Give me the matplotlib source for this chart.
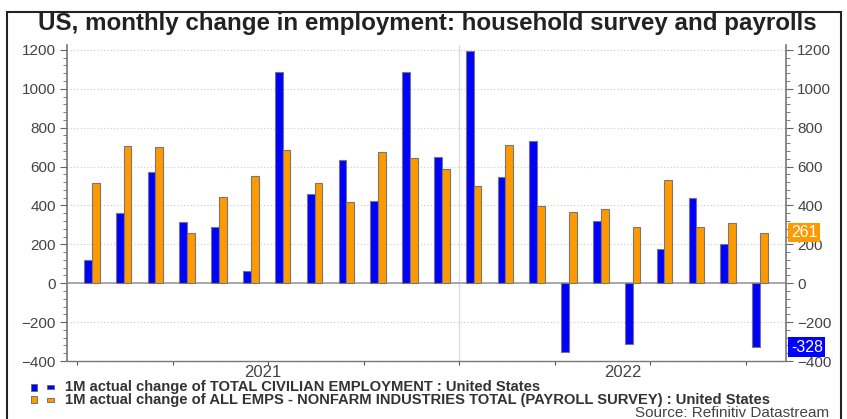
import matplotlib.pyplot as plt
from matplotlib.patches import Rectangle
from matplotlib.ticker import MultipleLocator, FixedLocator, NullFormatter

plt.rcParams['font.family'] = ['Liberation Sans', 'DejaVu Sans']

# monthly changes, Jan 2021 .. Oct 2022 (thousands)
months = ['2021-01', '2021-02', '2021-03', '2021-04', '2021-05', '2021-06',
          '2021-07', '2021-08', '2021-09', '2021-10', '2021-11', '2021-12',
          '2022-01', '2022-02', '2022-03', '2022-04', '2022-05', '2022-06',
          '2022-07', '2022-08', '2022-09', '2022-10']
household = [118, 360, 571, 315, 290, 62, 1088, 459, 636, 425, 1085, 648,
             1196, 545, 733, -355, 319, -315, 176, 439, 200, -328]
payrolls = [518, 706, 701, 259, 446, 554, 686, 514, 420, 673, 644, 588,
            502, 709, 396, 365, 382, 288, 533, 288, 312, 261]
years = ['2021', '2022']

BLUE = '#0000ff'
ORANGE = '#ff9900'
TXT = '#444444'

fig = plt.figure(figsize=(8.47, 4.19), dpi=100)
ax = fig.add_axes([0.0791, 0.1384, 0.8489, 0.754])

n = len(months)
xs = [i + 0.45 for i in range(n)]
w = 0.245
ax.bar([x - w / 2 for x in xs], household, width=w, color=BLUE,
       edgecolor='#777777', linewidth=0.8, zorder=3)
ax.bar([x + w / 2 for x in xs], payrolls, width=w, color=ORANGE,
       edgecolor='#777777', linewidth=0.8, zorder=3)

xmin, xmax = -0.33, 22.27
ax.set_xlim(xmin, xmax)
ax.set_ylim(-400, 1225)

ax.axhline(0, color='#999999', lw=1.2, zorder=2)
ax.axvline(12, color='#dddddd', lw=1.0, zorder=1)
for v in range(-400, 1201, 200):
    if v != 0:
        ax.axhline(v, color='#cccccc', lw=0.8, ls=(0, (1, 2)), zorder=1)

ax.spines['top'].set_visible(False)
for side in ['left', 'right', 'bottom']:
    ax.spines[side].set_color('#777777')
ax.spines['left'].set_linewidth(1.2)
ax.spines['right'].set_linewidth(1.2)
ax.spines['bottom'].set_linewidth(1.0)

# y axes on both sides
ax.yaxis.set_major_locator(MultipleLocator(200))
ax.yaxis.set_minor_locator(MultipleLocator(40))
ax.tick_params(axis='y', which='major', length=5, color='#666666',
               labelcolor=TXT, labelsize=11, right=True, labelright=True,
               pad=3)
ax.tick_params(axis='y', which='minor', length=3, color='#666666', right=True)

# quarterly ticks on the time axis, year labels in the middle
ax.xaxis.set_major_locator(FixedLocator([0, 3, 6, 9, 12, 15, 18, 21]))
ax.xaxis.set_major_formatter(NullFormatter())
ax.tick_params(axis='x', which='major', length=3, color='#555555')
centers = [(xmin + 12) / 2, (12 + xmax) / 2]
for c, yr in zip(centers, years):
    ax.text(c, -0.012, yr, transform=ax.get_xaxis_transform(), ha='center',
            va='top', fontsize=12, color=TXT)

# last values flagged on the right axis
for val, col in [(payrolls[-1], ORANGE), (household[-1], BLUE)]:
    ax.annotate(f'{val}', xy=(1.0, val), xycoords=('axes fraction', 'data'),
                xytext=(3.5, 0), textcoords='offset points', ha='left',
                va='center', fontsize=11.5, color='white', zorder=5,
                bbox=dict(boxstyle='square,pad=0.15', fc=col, ec='none'),
                annotation_clip=False)

fig.text(0.505, 0.945, 'US, monthly change in employment: household survey and payrolls',
         ha='center', va='center', fontsize=17.4, fontweight='bold', color='#222222')

# legend rows
legend_rows = [(BLUE, '1M actual change of TOTAL CIVILIAN EMPLOYMENT : United States'),
               (ORANGE, '1M actual change of ALL EMPS - NONFARM INDUSTRIES TOTAL (PAYROLL SURVEY) : United States')]
for k, (col, lab) in enumerate(legend_rows):
    yc = 1 - (387 + 12.5 * k) / 419
    fig.patches.append(Rectangle((31 / 847, yc - 3.5 / 419), 5.5 / 847, 7 / 419,
                                 transform=fig.transFigure, fc=col,
                                 ec='#666666', lw=0.6))
    fig.patches.append(Rectangle((47 / 847, yc - 2 / 419), 7 / 847, 4 / 419,
                                 transform=fig.transFigure, fc=col,
                                 ec='#666666', lw=0.6))
    fig.text(65 / 847, yc, lab, ha='left', va='center', fontsize=10.6,
             fontweight='bold', color='#333333')

fig.text(829 / 847, 1 - 412.5 / 419, 'Source: Refinitiv Datastream', ha='right',
         va='center', fontsize=11, color=TXT)

# outer frame
fig.patches.append(Rectangle((7 / 847, -0.02), 834 / 847, 1.02 - 12 / 419,
                             transform=fig.transFigure, fill=False,
                             ec='#222222', lw=1.5))

fig.savefig('out.png', dpi=100)
